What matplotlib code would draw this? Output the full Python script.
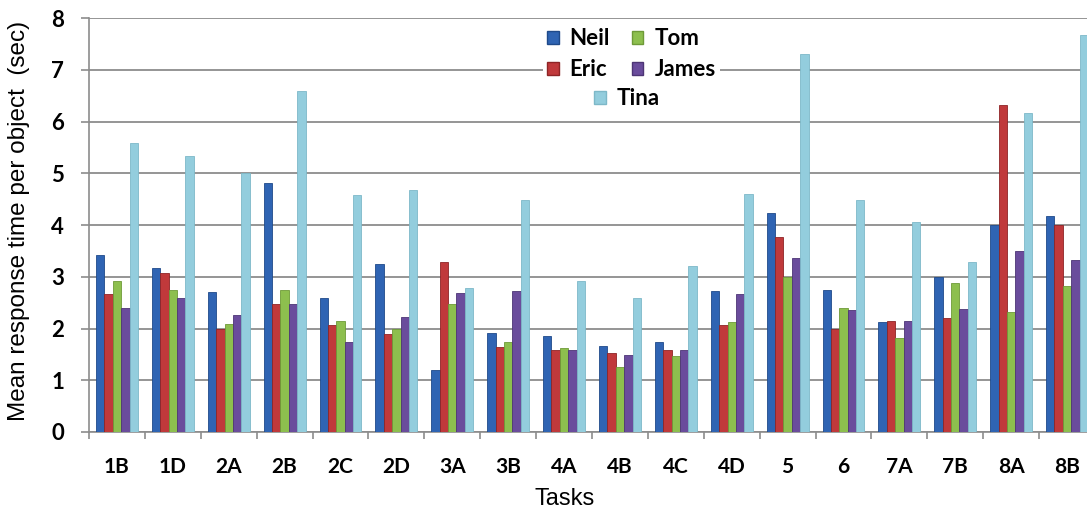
import numpy as np
import matplotlib
matplotlib.use('Agg')
import matplotlib.pyplot as plt
from matplotlib.patches import Patch

# values
tasks = ['1B', '1D', '2A', '2B', '2C', '2D', '3A', '3B', '4A', '4B',
         '4C', '4D', '5', '6', '7A', '7B', '8A', '8B']
neil = [3.42, 3.17, 2.71, 4.82, 2.58, 3.25, 1.20, 1.92, 1.86, 1.67,
        1.73, 2.73, 4.23, 2.75, 2.12, 3.00, 4.00, 4.17]
eric = [2.67, 3.08, 2.00, 2.48, 2.06, 1.90, 3.29, 1.65, 1.59, 1.52,
        1.59, 2.06, 3.77, 2.00, 2.15, 2.21, 6.31, 4.00]
tom = [2.92, 2.75, 2.08, 2.75, 2.15, 2.00, 2.48, 1.73, 1.63, 1.25,
       1.46, 2.13, 3.00, 2.40, 1.81, 2.88, 2.31, 2.83]
james = [2.40, 2.58, 2.27, 2.48, 1.73, 2.23, 2.69, 2.73, 1.59, 1.48,
         1.59, 2.67, 3.37, 2.35, 2.15, 2.38, 3.50, 3.33]
tina = [5.58, 5.33, 5.00, 6.58, 4.58, 4.67, 2.79, 4.48, 2.92, 2.58,
        3.21, 4.60, 7.31, 4.48, 4.06, 3.29, 6.17, 7.67]

names = ['Neil', 'Eric', 'Tom', 'James', 'Tina']
series = [neil, eric, tom, james, tina]
colors = ['#2F64B3', '#C0393B', '#8DBF4E', '#6A4C9C', '#93CDDD']
edges = ['#1F4A8A', '#8E2426', '#6E9A38', '#4D3575', '#7DB8C8']

fig = plt.figure(figsize=(10.87, 5.13), dpi=100)
# axes runs a bit past the right edge, like the cropped original
ax = fig.add_axes([89 / 1087, 81 / 513, 1006 / 1087, 414 / 513])

x = np.arange(len(tasks))
w = 0.15
for k, (vals, c, ec) in enumerate(zip(series, colors, edges)):
    ax.bar(x + (k - 2) * w, vals, w, color=c, edgecolor=ec, linewidth=0.6, zorder=3)

ax.set_xlim(-0.5, len(tasks) - 0.5)
ax.set_ylim(0, 8)
ax.set_yticks(range(0, 9))
ax.yaxis.grid(True, color='#8c8c8c', linewidth=1.3, zorder=0)
ax.set_axisbelow(True)

for s in ['top', 'right']:
    ax.spines[s].set_visible(False)
for s in ['left', 'bottom']:
    ax.spines[s].set_color('#8c8c8c')
    ax.spines[s].set_linewidth(1.2)

ax.set_xticks(x)
ax.set_xticklabels(tasks, fontfamily='Lato', fontweight='bold', fontsize=15)
ax.set_xticks(np.arange(len(tasks) + 1) - 0.5, minor=True)
ax.tick_params(axis='x', which='major', length=0, pad=18)
ax.tick_params(axis='x', which='minor', length=5, color='#8c8c8c', width=1.2)
ax.tick_params(axis='y', length=6, color='#8c8c8c', width=1.2, pad=12)
for lab in ax.get_yticklabels():
    lab.set_fontfamily('Lato')
    lab.set_fontweight('bold')
    lab.set_fontsize(16)

ax.set_ylabel('Mean response time per object  (sec)', fontfamily='Liberation Sans', fontsize=17.5)
ax.yaxis.set_label_coords(-0.059, 0.51)
ax.set_xlabel('Tasks', fontfamily='Liberation Sans', fontsize=17)
ax.xaxis.set_label_coords(0.473, -0.135)

lfont = {'family': 'Lato', 'weight': 'bold', 'size': 16}
h4 = [Patch(facecolor=colors[i], edgecolor=edges[i]) for i in [0, 1, 2, 3]]
leg1 = fig.legend(h4, [names[i] for i in [0, 1, 2, 3]], ncol=2, prop=lfont,
                  loc='upper left', bbox_to_anchor=(543 / 1087, 1 - 24 / 513),
                  frameon=True, facecolor='white', edgecolor='none', framealpha=1,
                  handlelength=0.5, handleheight=0.5, handletextpad=0.5,
                  columnspacing=1.0, labelspacing=0.45, borderpad=0.2, borderaxespad=0)
leg2 = fig.legend([Patch(facecolor=colors[4], edgecolor=edges[4])], ['Tina'], prop=lfont,
                  loc='upper left', bbox_to_anchor=(590 / 1087, 1 - 84 / 513),
                  frameon=True, facecolor='white', edgecolor='none', framealpha=1,
                  handlelength=0.5, handleheight=0.5, handletextpad=0.5,
                  borderpad=0.2, borderaxespad=0)

fig.savefig('out.png', dpi=100)
